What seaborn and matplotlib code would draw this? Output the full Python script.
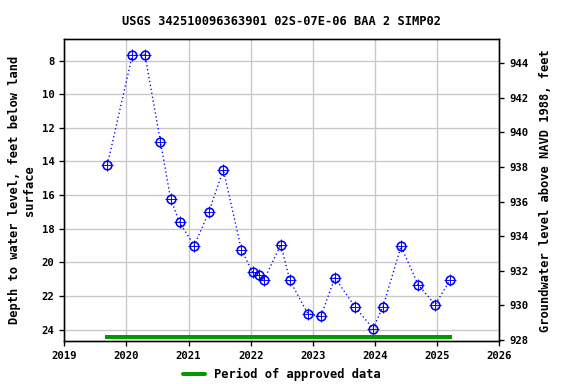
import numpy as np
import pandas as pd
import matplotlib
matplotlib.use("Agg")
import matplotlib.pyplot as plt
import seaborn as sns
from matplotlib.lines import Line2D

# ==============================
# Data
# ==============================
dates = [2019.694, 2020.097, 2020.297, 2020.548, 2020.710, 2020.855, 2021.092,
         2021.323, 2021.560, 2021.850, 2022.032, 2022.129, 2022.210, 2022.484,
         2022.630, 2022.919, 2023.129, 2023.355, 2023.677, 2023.968, 2024.129,
         2024.419, 2024.694, 2024.968, 2025.210]
depth = [14.19, 7.64, 7.64, 12.82, 16.21, 17.63, 19.01,
         17.03, 14.49, 19.25, 20.60, 20.74, 21.08, 18.95,
         21.08, 23.06, 23.22, 20.92, 22.64, 23.95, 22.64,
         19.05, 21.33, 22.52, 21.04]
approved_start = 2019.657
approved_end = 2025.242
approved_depth = 24.45

title = "USGS 342510096363901 02S-07E-06 BAA 2 SIMP02"
left_label = "Depth to water level, feet below land\nsurface"
right_label = "Groundwater level above NAVD 1988, feet"
x_ticks = list(range(2019, 2027))
left_ticks = list(range(8, 25, 2))
right_ticks = list(range(928, 945, 2))

df = pd.DataFrame({"date": dates, "depth": depth})

# ==============================
# Figure
# ==============================
sns.set_style("white")
plt.rcParams["font.family"] = ["DejaVu Sans Mono"]
plt.rcParams["font.weight"] = "bold"
plt.rcParams["font.size"] = 8
for key in ["text.color", "axes.labelcolor", "xtick.color", "ytick.color"]:
    plt.rcParams[key] = "black"

fig = plt.figure(figsize=(6, 4), dpi=96)
ax = fig.add_axes([0.1116, 0.1112, 0.7552, 0.7865])

ax.grid(True, color="#c8c8c8", linewidth=1)
ax.set_axisbelow(True)

sns.lineplot(data=df, x="date", y="depth", ax=ax, color="blue",
             linestyle=(0, (1, 2)), linewidth=1)
ax.plot(df["date"], df["depth"], linestyle="none", marker="o", markersize=6.5,
        markerfacecolor="none", markeredgecolor="blue", markeredgewidth=1.2)
ax.plot(df["date"], df["depth"], linestyle="none", marker="+", markersize=8.5,
        markeredgecolor="blue", markeredgewidth=0.7)

ax.plot([approved_start, approved_end], [approved_depth, approved_depth],
        color="#009900", linewidth=3, solid_capstyle="butt")

ax.set_xlim(2019, 2026)
ax.set_ylim(24.70, 6.73)
ax.set_xticks(x_ticks)
ax.set_xticklabels([str(t) for t in x_ticks])
ax.set_yticks(left_ticks)
ax.set_xlabel("")
ax.set_ylabel(left_label, fontsize=9, fontweight="bold")
ax.set_title(title, fontsize=9, fontweight="bold", pad=11)
ax.tick_params(direction="out", length=4, width=1, left=True, bottom=True)
for s in ax.spines.values():
    s.set_color("black")
    s.set_linewidth(1)

ax2 = ax.twinx()
ax2.set_ylim(927.92, 945.39)
ax2.set_yticks(right_ticks)
ax2.set_ylabel(right_label, fontsize=9, fontweight="bold", labelpad=8)
ax2.tick_params(direction="out", length=4, width=1, right=True)
for s in ax2.spines.values():
    s.set_color("black")
    s.set_linewidth(1)

handle = Line2D([0], [0], color="#009900", linewidth=3)
fig.legend([handle], ["Period of approved data"], loc="lower center",
           bbox_to_anchor=(0.49, -0.02), frameon=False, fontsize=9,
           handlelength=1.8)

fig.savefig("out.png", dpi=96)
